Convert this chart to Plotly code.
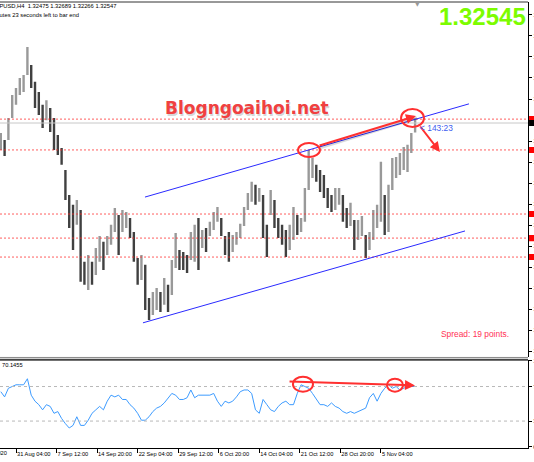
import plotly.graph_objects as go

# ---------------- data ----------------
# H4 bar index (0 = "31 Aug 04:00"), one sample every 3 bars
bar_index = list(range(-12, 316, 3))

high = [1.3225, 1.3204, 1.3269, 1.3337, 1.3358, 1.3387, 1.3396, 1.3479, 1.3426, 1.3376,
        1.3346, 1.3308, 1.3322, 1.3299, 1.3269, 1.3219, 1.3181, 1.3116, 1.3042, 1.3013,
        1.3027, 1.2998, 1.2845, 1.2865, 1.2845, 1.2886, 1.2921, 1.2904, 1.2921, 1.2954,
        1.3004, 1.2983, 1.2998, 1.2992, 1.2974, 1.2933, 1.2856, 1.2865, 1.2836, 1.2738,
        1.2756, 1.2768, 1.2756, 1.2797, 1.2777, 1.2850, 1.2930, 1.2880, 1.2874, 1.2865,
        1.2933, 1.2954, 1.2974, 1.2939, 1.2945, 1.2963, 1.2992, 1.3007, 1.2974, 1.2921,
        1.2933, 1.2924, 1.2933, 1.2957, 1.3007, 1.3048, 1.3081, 1.3072, 1.3063, 1.3042,
        1.2954, 1.3057, 1.3027, 1.2974, 1.2954, 1.2939, 1.2954, 1.3007, 1.2983, 1.2974,
        1.3063, 1.3175, 1.3151, 1.3131, 1.3116, 1.3101, 1.3063, 1.3042, 1.3063, 1.3063,
        1.3042, 1.3004, 1.3019, 1.2968, 1.2968, 1.2980, 1.2924, 1.2933, 1.2998, 1.3013,
        1.3140, 1.3042, 1.3072, 1.3151, 1.3154, 1.3166, 1.3184, 1.3190, 1.3225, 1.32689]

low = [1.3175, 1.3157, 1.3204, 1.3269, 1.3308, 1.3337, 1.3346, 1.3396, 1.3358, 1.3299,
       1.3278, 1.3240, 1.3263, 1.3228, 1.3175, 1.3160, 1.3131, 1.3027, 1.2945, 1.2880,
       1.2954, 1.2786, 1.2777, 1.2762, 1.2777, 1.2806, 1.2845, 1.2821, 1.2865, 1.2895,
       1.2933, 1.2865, 1.2933, 1.2945, 1.2915, 1.2845, 1.2777, 1.2791, 1.2703, 1.2673,
       1.2688, 1.2703, 1.2697, 1.2718, 1.2697, 1.2747, 1.2827, 1.2821, 1.2821, 1.2812,
       1.2850, 1.2845, 1.2821, 1.2886, 1.2874, 1.2921, 1.2939, 1.2963, 1.2921, 1.2865,
       1.2845, 1.2874, 1.2895, 1.2915, 1.2951, 1.2998, 1.3022, 1.3013, 1.3022, 1.2915,
       1.2859, 1.2983, 1.2945, 1.2915, 1.2895, 1.2859, 1.2880, 1.2909, 1.2924, 1.2933,
       1.2963, 1.3057, 1.3092, 1.3081, 1.3051, 1.3033, 1.3004, 1.2992, 1.2998, 1.3013,
       1.2963, 1.2945, 1.2951, 1.2880, 1.2909, 1.2921, 1.2856, 1.2880, 1.2909, 1.2945,
       1.2963, 1.2924, 1.2933, 1.3057, 1.3092, 1.3101, 1.3116, 1.3110, 1.3166, 1.32266]

rsi = [64, 58, 68, 70, 72, 72, 72, 79, 60, 53,
       49, 43, 49, 47, 39, 41, 33, 27, 22, 25,
       35, 25, 25, 31, 39, 43, 47, 43, 53, 60,
       58, 60, 55, 55, 49, 45, 39, 31, 31, 35,
       41, 45, 47, 51, 57, 62, 60, 55, 55, 57,
       66, 57, 60, 60, 60, 60, 62, 53, 47, 53,
       51, 53, 58, 64, 66, 66, 62, 43, 39, 55,
       49, 43, 41, 47, 51, 53, 49, 49, 62, 72,
       70, 68, 62, 55, 49, 49, 47, 51, 47, 45,
       41, 39, 41, 39, 41, 43, 45, 57, 62, 53,
       62, 68, 72, 68, 70, 66, 68, 70, 70, 70.1455]

tick_bars = [0, 32, 64, 96, 128, 160, 192, 224, 256, 288]
tick_labels = ["31 Aug 04:00", "7 Sep 12:00", "14 Sep 20:00", "22 Sep 04:00",
               "29 Sep 12:00", "6 Oct 20:00", "14 Oct 04:00", "21 Oct 12:00",
               "28 Oct 20:00", "5 Nov 04:00"]

levels = [1.3266, 1.3175, 1.2986, 1.2915, 1.2859]
bid = 1.32545
rsi_levels = [30, 70]

channel_upper = ([101.8, 357.5], [1.3036, 1.3311])
channel_lower = ([100.2, 354.4], [1.2665, 1.2936])

main_circles = [((222.6, 239.9), (1.31542, 1.31955)), ((303.9, 322.0), (1.32427, 1.32959))]
main_arrows = [((238.4, 1.31867), (315.7, 1.32752)), ((318.1, 1.32486), (334.6, 1.3169))]
rsi_circles = [((218.6, 234.4), (64, 81.4)), ((292.8, 305.4), (64, 79.1))]
rsi_arrow = ((214.7, 75.9), (314.9, 71.3))

# ---------------- layout geometry ----------------
W, H = 534, 462
ML, MR, MT, MB = 0, 6, 2, 14
PW = W - ML - MR
PH = H - MT - MB
YB = H - MB
XR = [-12.63, 404.1]
FONT = "Liberation Sans"


def px(xp, yp):
    return xp / PW, (YB - yp) / PH


# ---------------- bars ----------------
xu, yu, xd, yd = [], [], [], []
prev = None
for b, h, l in zip(bar_index, high, low):
    mid = (h + l) / 2
    up = prev is None or mid >= prev
    (xu if up else xd).extend([b, b, None])
    (yu if up else yd).extend([l, h, None])
    prev = mid

fig = go.Figure()
fig.add_trace(go.Scatter(x=xu, y=yu, mode="lines", line=dict(color="#999999", width=2.4),
                         hoverinfo="skip", showlegend=False, xaxis="x", yaxis="y"))
fig.add_trace(go.Scatter(x=xd, y=yd, mode="lines", line=dict(color="#404040", width=2.4),
                         hoverinfo="skip", showlegend=False, xaxis="x", yaxis="y"))
fig.add_trace(go.Scatter(x=bar_index, y=rsi, mode="lines", line=dict(color="#3d9bff", width=1),
                         hoverinfo="skip", showlegend=False, xaxis="x2", yaxis="y2"))

shapes = []
# frames
shapes += [
    dict(type="line", xref="paper", yref="paper", x0=0, x1=1, y0=1, y1=1, line=dict(color="#333", width=1)),
    dict(type="line", xref="paper", yref="paper", x0=0, x1=1, y0=0.203, y1=0.203, line=dict(color="#888", width=1)),
    dict(type="line", xref="paper", yref="paper", x0=0, x1=1, y0=0.198, y1=0.198, line=dict(color="#444", width=2)),
]
# bid line
shapes.append(dict(type="line", xref="paper", x0=0, x1=1, yref="y", y0=bid, y1=bid,
                   line=dict(color="#c8c8c8", width=1)))
# levels
for lv in levels:
    shapes.append(dict(type="line", xref="paper", x0=0, x1=1, yref="y", y0=lv, y1=lv,
                       line=dict(color="rgba(255,40,40,0.75)", width=1, dash="2px,2px")))
    shapes.append(dict(type="rect", xref="paper", x0=1.002, x1=1.03, yref="y", y0=lv - 0.0009, y1=lv + 0.0009,
                       line=dict(width=0), fillcolor="#ff0000"))
shapes.append(dict(type="rect", xref="paper", x0=1.002, x1=1.03, yref="y", y0=bid - 0.0009, y1=bid + 0.0009,
                   line=dict(width=0), fillcolor="#000000"))
# rsi levels
for lv in rsi_levels:
    shapes.append(dict(type="line", xref="paper", x0=0, x1=1, yref="y2", y0=lv, y1=lv,
                       line=dict(color="#b8b8b8", width=1, dash="3px,3px")))
# channel
for cx, cy in (channel_upper, channel_lower):
    shapes.append(dict(type="line", xref="x", yref="y", x0=cx[0], x1=cx[1], y0=cy[0], y1=cy[1],
                       line=dict(color="#2a2aff", width=1)))
# shadow of red line
(tx, ty), (hx, hy) = main_arrows[0]
shapes.append(dict(type="line", xref="x", yref="y", x0=tx + 0.8, x1=hx + 0.8, y0=ty - 0.0006, y1=hy - 0.0006,
                   line=dict(color="rgba(0,0,0,0.15)", width=3)))
# circles
for (cx, cy) in main_circles:
    shapes.append(dict(type="circle", xref="x", yref="y", x0=cx[0], x1=cx[1], y0=cy[0], y1=cy[1],
                       line=dict(color="#ff3030", width=2)))
for (cx, cy) in rsi_circles:
    shapes.append(dict(type="circle", xref="x2", yref="y2", x0=cx[0], x1=cx[1], y0=cy[0], y1=cy[1],
                       line=dict(color="#ff3030", width=2)))

ann = []
for (tx, ty), (hx, hy) in main_arrows:
    ann.append(dict(x=hx, y=hy, ax=tx, ay=ty, xref="x", yref="y", axref="x", ayref="y", text="",
                    showarrow=True, arrowhead=2, arrowsize=1, arrowwidth=2, arrowcolor="#ff3030", standoff=0))
(tx, ty), (hx, hy) = rsi_arrow
ann.append(dict(x=hx, y=hy, ax=tx, ay=ty, xref="x2", yref="y2", axref="x2", ayref="y2", text="",
                showarrow=True, arrowhead=2, arrowsize=1, arrowwidth=2, arrowcolor="#ff3030", standoff=0))


def text(s, xp, yp, size, color, xanchor="left", bold=False, family=FONT, **kw):
    x, y = px(xp, yp)
    ann.append(dict(text=("<b>%s</b>" % s) if bold else s, x=x, y=y, xref="paper", yref="paper",
                    xanchor=xanchor, yanchor="middle", showarrow=False,
                    font=dict(size=size, color=color, family=family), **kw))


text("Blogngoaihoi.net", 248, 110, 17, "rgba(0,0,0,0.18)", xanchor="center", bold=True, family="DejaVu Sans")
text("Blogngoaihoi.net", 246.5, 108, 17, "#f04040", xanchor="center", bold=True, family="DejaVu Sans")
text("1.32545", 528, 17, 24, "#7cfc00", xanchor="right", bold=True)
text("Spread: 19 points.", 439, 334, 8.4, "#ff3355")
text("< 143:23", 418, 128, 8.4, "#4060f0")
text("70.1455", 0, 365, 5.7, "#000")
text("GBPUSD,H4  1.32475 1.32689 1.32266 1.32547", 118, 6.5, 5.8, "#000", xanchor="right")
text("143 minutes 23 seconds left to bar end", 81, 15, 5.8, "#000", xanchor="right")
text("24 Aug 2020", 9, 453, 5.7, "#000", xanchor="right")
text("▼", 417, 3, 6, "#999", xanchor="center", family="DejaVu Sans")

small = dict(size=5.7, color="#000", family=FONT)
fig.update_layout(
    width=W, height=H, template="none",
    margin=dict(l=ML, r=MR, t=MT, b=MB, pad=0),
    paper_bgcolor="white", plot_bgcolor="white", showlegend=False,
    xaxis=dict(domain=[0, 1], range=XR, anchor="y", showticklabels=False, ticks="",
               showgrid=False, zeroline=False, showline=False, automargin=False),
    yaxis=dict(domain=[0.203, 1], range=[1.25628, 1.36115], anchor="x", side="right",
               tick0=1.34493, dtick=0.0062, tickformat=".5f", ticks="outside", ticklen=3,
               tickcolor="#000", tickfont=small, showgrid=False, zeroline=False,
               showline=True, linecolor="#000", linewidth=1, automargin=False),
    xaxis2=dict(domain=[0, 1], range=XR, anchor="y2", tickmode="array", tickvals=tick_bars,
                ticktext=tick_labels, ticks="outside", ticklen=4, tickcolor="#000", tickangle=0,
                ticklabelposition="outside right", tickfont=small, showgrid=False,
                zeroline=False, showline=True, linecolor="#000", linewidth=1, automargin=False),
    yaxis2=dict(domain=[0, 0.198], range=[-1.163, 101.05], anchor="x2", side="right",
                tickmode="array", tickvals=[0, 30, 70, 100], ticks="outside", ticklen=3,
                tickcolor="#000", tickfont=small, showgrid=False, zeroline=False,
                showline=True, linecolor="#000", linewidth=1, automargin=False),
    shapes=shapes, annotations=ann,
)

fig.write_html("out.html", config={"displayModeBar": False},
               post_script="document.body.style.margin='0';document.body.style.overflow='hidden';")
